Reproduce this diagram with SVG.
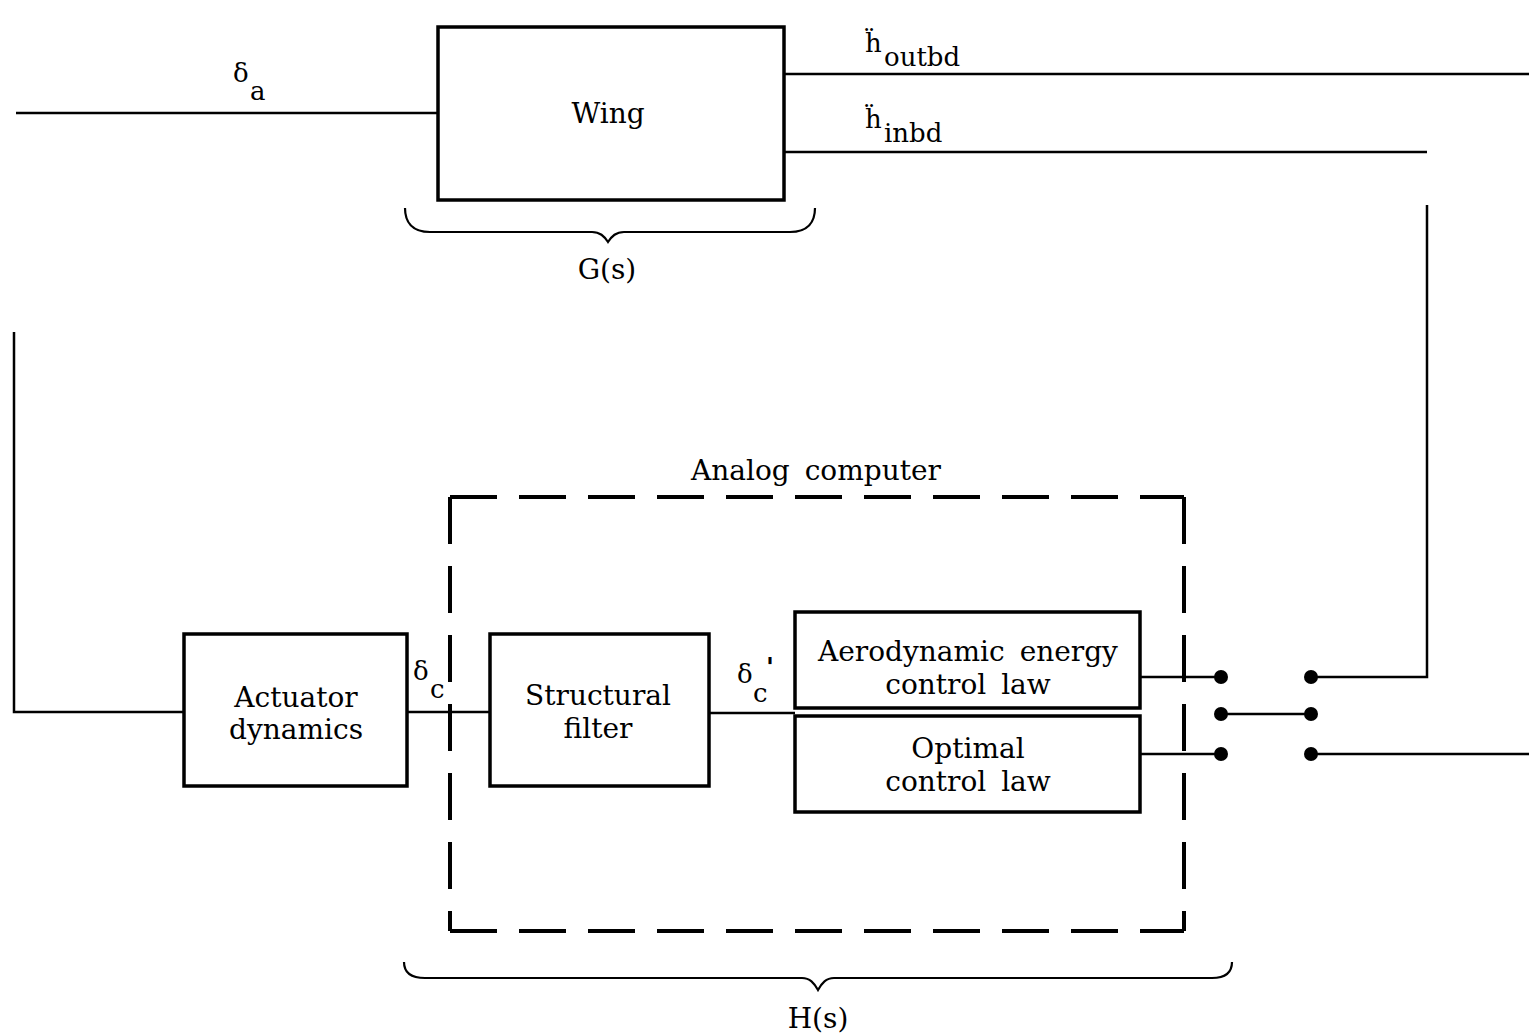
<svg xmlns="http://www.w3.org/2000/svg" width="1529" height="1035" viewBox="0 0 1529 1035">
<style>
.box{fill:none;stroke:#000;stroke-width:3.5}
.ln{fill:none;stroke:#000;stroke-width:2.5}
.dash{fill:none;stroke:#000;stroke-width:4;stroke-dasharray:47 22}
.brace{fill:none;stroke:#000;stroke-width:2.2}
text{font-family:"DejaVu Serif","Liberation Serif",serif;fill:#000}
.t{font-size:28px;text-anchor:middle}
.s{font-size:26px}
.dot{fill:#000}
</style>
<rect width="1529" height="1035" fill="#fff"/>
<g id="connectors">
<line class="ln" x1="16" y1="113" x2="438" y2="113"/>
<line class="ln" x1="784" y1="74" x2="1529" y2="74"/>
<line class="ln" x1="784" y1="152" x2="1427" y2="152"/>
<polyline class="ln" points="1427,205 1427,677 1311,677"/>
<polyline class="ln" points="14,332 14,712 184,712"/>
<line class="ln" x1="407" y1="712" x2="490" y2="712"/>
<line class="ln" x1="709" y1="713" x2="795" y2="713"/>
<line class="ln" x1="1140" y1="677" x2="1221" y2="677"/>
<line class="ln" x1="1140" y1="754" x2="1221" y2="754"/>
<line class="ln" x1="1221" y1="714" x2="1311" y2="714"/>
<line class="ln" x1="1311" y1="754" x2="1529" y2="754"/>
<circle class="dot" cx="1221" cy="677" r="7"/>
<circle class="dot" cx="1221" cy="714" r="7"/>
<circle class="dot" cx="1221" cy="754" r="7"/>
<circle class="dot" cx="1311" cy="677" r="7"/>
<circle class="dot" cx="1311" cy="714" r="7"/>
<circle class="dot" cx="1311" cy="754" r="7"/>
</g>
<g id="labels">
<text class="s" x="233" y="82">δ</text>
<text class="s" x="250" y="100">a</text>
<text class="s"><tspan x="865" y="52">ḧ</tspan><tspan x="884" y="66">outbd</tspan></text>
<text class="s"><tspan x="865" y="128">ḧ</tspan><tspan x="884" y="142">inbd</tspan></text>
<text class="s" x="413" y="680">δ</text>
<text class="s" x="430" y="698">c</text>
<text class="s" x="737" y="683">δ</text>
<text class="s" x="753" y="702">c</text>
<text class="s" x="766" y="676" style="font-weight:bold">'</text>
</g>
<g id="wing">
<rect class="box" x="438" y="27" width="346" height="173"/>
<text class="t" x="608" y="123">Wing</text>
</g>
<g id="G-brace">
<path class="brace" d="M405,208 C405,222 412,232 430,232 L592,232 C600,232 604,236 608,242 C612,236 616,232 624,232 L790,232 C808,232 815,222 815,208"/>
<text class="t" x="607" y="279">G(s)</text>
</g>
<g id="analog-computer">
<line class="dash" x1="450" y1="497" x2="1184" y2="497"/>
<line class="dash" x1="450" y1="497" x2="450" y2="931"/>
<line class="dash" x1="450" y1="931" x2="1184" y2="931"/>
<line class="dash" x1="1184" y1="497" x2="1184" y2="931"/>
<text class="t" x="816" y="480" style="word-spacing:6px">Analog computer</text>
</g>
<g id="actuator">
<rect class="box" x="184" y="634" width="223" height="152"/>
<text class="t" x="296" y="707">Actuator</text>
<text class="t" x="296" y="739">dynamics</text>
</g>
<g id="structural-filter">
<rect class="box" x="490" y="634" width="219" height="152"/>
<text class="t" x="598" y="705">Structural</text>
<text class="t" x="598" y="738">filter</text>
</g>
<g id="aero-law">
<rect class="box" x="795" y="612" width="345" height="96"/>
<text class="t" x="968" y="661" style="word-spacing:6px">Aerodynamic energy</text>
<text class="t" x="968" y="694" style="word-spacing:6px">control law</text>
</g>
<g id="optimal-law">
<rect class="box" x="795" y="716" width="345" height="96"/>
<text class="t" x="968" y="758">Optimal</text>
<text class="t" x="968" y="791" style="word-spacing:6px">control law</text>
</g>
<g id="H-brace">
<path class="brace" d="M404,962 C404,972 410,978 425,978 L802,978 C810,978 814,983 818,990 C822,983 826,978 834,978 L1212,978 C1226,978 1232,972 1232,962"/>
<text class="t" x="818" y="1028">H(s)</text>
</g>
</svg>
